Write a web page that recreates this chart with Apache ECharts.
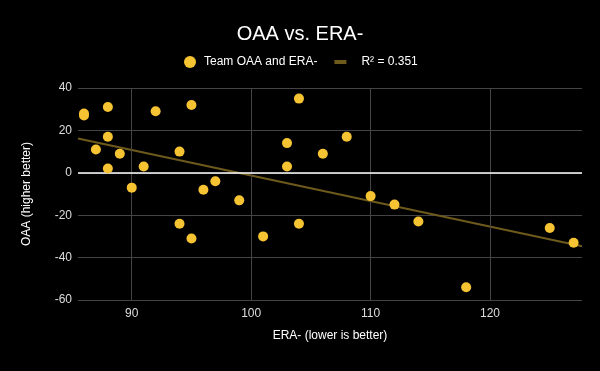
<!DOCTYPE html>
<html>
<head>
<meta charset="utf-8">
<script src="https://cdn.jsdelivr.net/npm/echarts@6/dist/echarts.min.js"></script>
<style>html,body{margin:0;padding:0;background:#000;}#c{width:600px;height:371px;}</style>
</head>
<body>
<div id="c"></div>
<script>
// ERA- (x) and OAA (y) per team
const eraMinus = [86, 86, 88, 88, 87, 89, 88, 90, 91, 92, 95, 94, 96, 97, 99, 94, 95, 104, 103, 106, 108, 103, 110, 112, 101, 104, 114, 125, 127, 118];
const oaa      = [28, 27, 31, 17, 11, 9, 2, -7, 3, 29, 32, 10, -8, -4, -13, -24, -31, 35, 14, 9, 17, 3, -11, -15, -30, -24, -23, -26, -33, -54];
const xTicks = [90, 100, 110, 120];
const yTicks = [-60, -40, -20, 0, 20, 40];
const seriesName = 'Team OAA and ERA-';
const trendName = 'R² = 0.351';
const xMin = 85.5, xMax = 127.7;

const pts = eraMinus.map((x, i) => [x, oaa[i]]);
// least squares trendline from the data
const n = pts.length;
const mx = eraMinus.reduce((a, b) => a + b, 0) / n;
const my = oaa.reduce((a, b) => a + b, 0) / n;
let sxy = 0, sxx = 0;
for (let i = 0; i < n; i++) { sxy += (eraMinus[i] - mx) * (oaa[i] - my); sxx += (eraMinus[i] - mx) ** 2; }
const slope = sxy / sxx, icpt = my - slope * mx;
const trend = [[xMin, icpt + slope * xMin], [xMax, icpt + slope * xMax]];

const font = '"Liberation Sans", Arial, sans-serif';
const chart = echarts.init(document.getElementById('c'));
chart.setOption({
  backgroundColor: '#000',
  animation: false,
  textStyle: { fontFamily: font },
  title: { text: 'OAA vs. ERA-', left: 'center', top: 19, textStyle: { color: '#fff', fontSize: 20, fontWeight: 'normal', fontFamily: font } },
  legend: {
    top: 56, left: 184, padding: 0, itemWidth: 12, itemHeight: 12, itemGap: 17,
    textStyle: { color: '#fff', fontSize: 12, fontFamily: font, padding: [0, 0, 0, 3] },
    data: [
      { name: seriesName, icon: 'circle' },
      { name: trendName, icon: 'path://M0,0h0.01v0.01h-0.01zM0,4h12v4h-12zM0,11.99h0.01v0.01h-0.01z', textStyle: { padding: [0, 0, 0, 10] } }
    ]
  },
  grid: { left: 78, right: 18, top: 88, bottom: 71 },
  xAxis: {
    type: 'value', min: xMin, max: xMax, interval: 0.5,
    name: 'ERA- (lower is better)', nameLocation: 'middle', nameGap: 30,
    nameTextStyle: { color: '#fff', fontSize: 12, fontFamily: font },
    axisLine: { show: false }, axisTick: { show: false }, splitLine: { show: false },
    axisLabel: { color: '#ddd', fontSize: 12, margin: 8, showMinLabel: false, showMaxLabel: false,
      formatter: v => xTicks.some(t => Math.abs(t - v) < 1e-6) ? String(Math.round(v)) : '' }
  },
  yAxis: {
    type: 'value', min: yTicks[0], max: yTicks[yTicks.length - 1], interval: 20,
    name: 'OAA (higher better)', nameLocation: 'middle', nameGap: 45,
    nameTextStyle: { color: '#fff', fontSize: 12, fontFamily: font },
    axisLine: { show: false }, axisTick: { show: false },
    splitLine: { lineStyle: { color: '#444', width: 1 } },
    axisLabel: { color: '#ddd', fontSize: 12, margin: 6 }
  },
  series: [
    {
      name: seriesName, type: 'scatter', data: pts, symbolSize: 10, z: 5,
      itemStyle: { color: '#f6c332', opacity: 1 },
      markLine: {
        silent: true, symbol: 'none', label: { show: false }, animation: false,
        data: xTicks.map(t => ({ xAxis: t, lineStyle: { color: '#444', width: 1, type: 'solid' } }))
          .concat([{ yAxis: 0, lineStyle: { color: '#fff', width: 1.5, type: 'solid' } }])
      }
    },
    {
      name: trendName, type: 'line', data: trend, symbol: 'none', z: 4,
      lineStyle: { color: '#6e5a1c', width: 2 }, itemStyle: { color: '#6e5a1c' }
    }
  ]
});
</script>
</body>
</html>
